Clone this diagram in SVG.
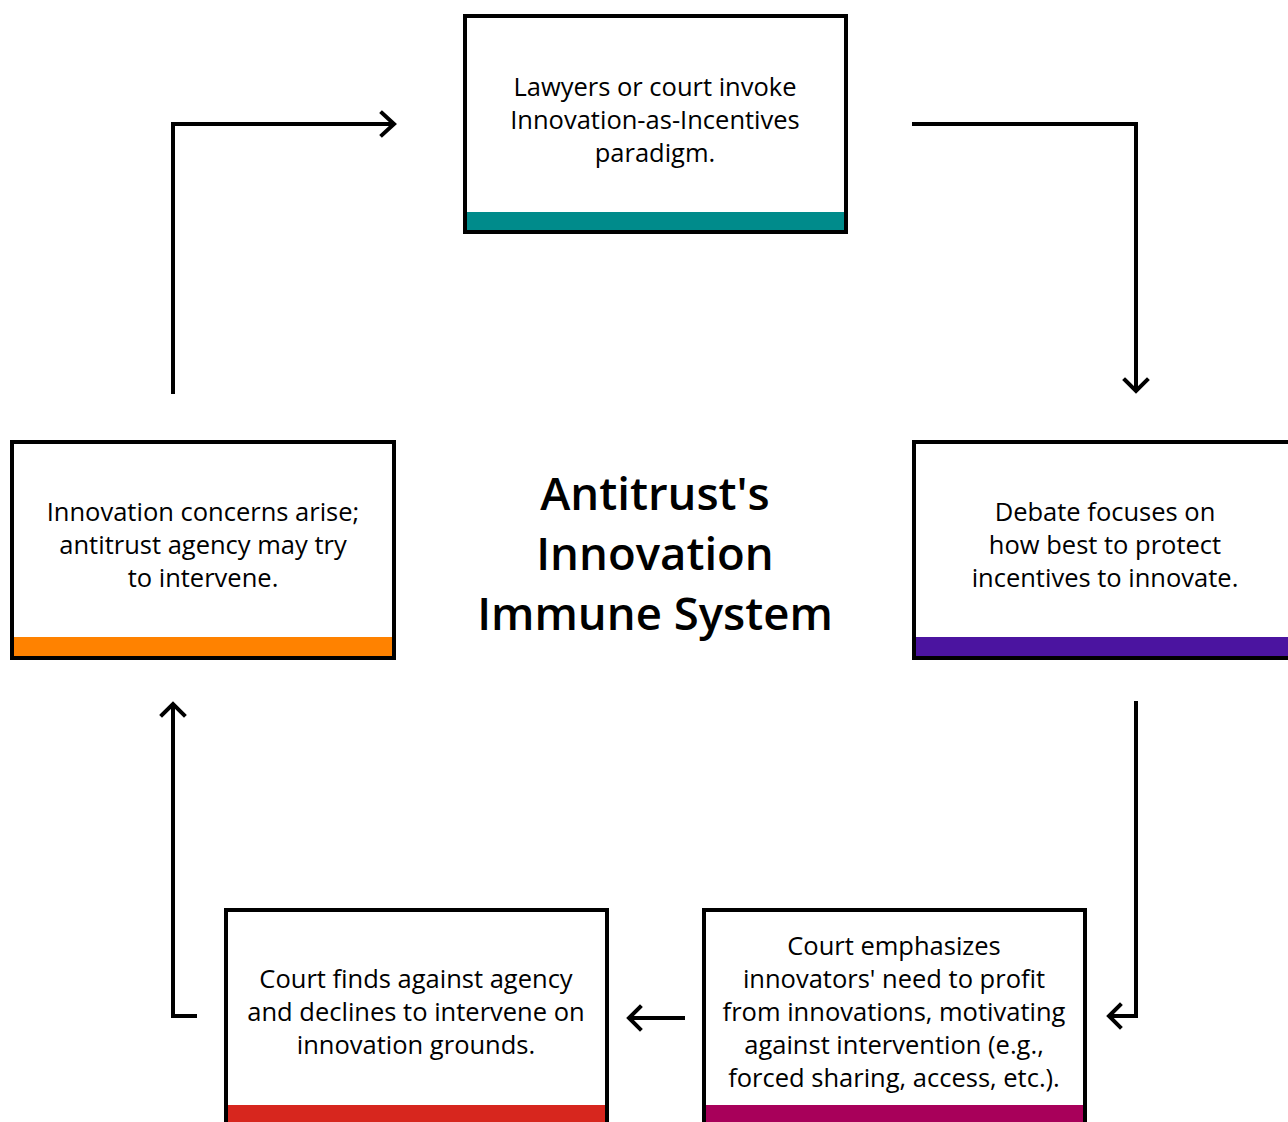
<svg xmlns="http://www.w3.org/2000/svg" width="1288" height="1122" viewBox="0 0 1288 1122">
<style>
.box{fill:#ffffff;stroke:#000000;stroke-width:4}
.t{font-family:"Open Sans","Liberation Sans",sans-serif;font-size:25.5px;font-weight:500;fill:#000000;text-anchor:middle}
.title{font-family:"Open Sans","Liberation Sans",sans-serif;font-size:45.5px;font-weight:600;fill:#000000;text-anchor:middle}
.c{fill:none;stroke:#000000;stroke-width:4;stroke-linejoin:miter}
.h{fill:none;stroke:#000000;stroke-width:4;stroke-linecap:square;stroke-linejoin:miter}
</style>
<rect width="1288" height="1122" fill="#ffffff"/>
<g id="title">
<text class="title" x="655" y="510">Antitrust's</text>
<text class="title" x="655" y="570">Innovation</text>
<text class="title" x="655" y="630">Immune System</text>
</g>
<g id="node-top">
<rect class="box" x="465" y="16" width="381" height="216"/>
<rect x="467" y="212" width="377" height="18" fill="#008B8B"/>
<text class="t" x="655" y="96">Lawyers or court invoke</text>
<text class="t" x="655" y="129">Innovation-as-Incentives</text>
<text class="t" x="655" y="162">paradigm.</text>
</g>
<g id="node-right">
<rect class="box" x="914" y="442" width="382" height="216"/>
<rect x="916" y="637" width="378" height="19" fill="#4B14A0"/>
<text class="t" x="1105" y="521">Debate focuses on</text>
<text class="t" x="1105" y="554">how best to protect</text>
<text class="t" x="1105" y="587">incentives to innovate.</text>
</g>
<g id="node-bottom-right">
<rect class="box" x="704" y="910" width="381" height="216"/>
<rect x="706" y="1105" width="377" height="19" fill="#A8005A"/>
<text class="t" x="894" y="955">Court emphasizes</text>
<text class="t" x="894" y="988">innovators' need to profit</text>
<text class="t" x="894" y="1021">from innovations, motivating</text>
<text class="t" x="894" y="1054">against intervention (e.g.,</text>
<text class="t" x="894" y="1087">forced sharing, access, etc.).</text>
</g>
<g id="node-bottom-left">
<rect class="box" x="226" y="910" width="381" height="216"/>
<rect x="228" y="1105" width="377" height="19" fill="#D7261E"/>
<text class="t" x="416" y="988">Court finds against agency</text>
<text class="t" x="416" y="1021">and declines to intervene on</text>
<text class="t" x="416" y="1054">innovation grounds.</text>
</g>
<g id="node-left">
<rect class="box" x="12" y="442" width="382" height="216"/>
<rect x="14" y="637" width="378" height="19" fill="#FF8200"/>
<text class="t" x="203" y="521">Innovation concerns arise;</text>
<text class="t" x="203" y="554">antitrust agency may try</text>
<text class="t" x="203" y="587">to intervene.</text>
</g>
<g id="connectors">
<polyline class="c" points="173,394 173,124 394,124"/>
<polyline class="h" points="382,113 394,124 382,135"/>
<polyline class="c" points="912,124 1136,124 1136,391"/>
<polyline class="h" points="1125,380 1136,391 1147,380"/>
<polyline class="c" points="1136,701 1136,1016 1109,1016"/>
<polyline class="h" points="1120,1005 1109,1016 1120,1027"/>
<polyline class="c" points="685,1018 629,1018"/>
<polyline class="h" points="640,1007 629,1018 640,1029"/>
<polyline class="c" points="197,1016 173,1016 173,704"/>
<polyline class="h" points="162,715 173,704 184,715"/>
</g>
</svg>
